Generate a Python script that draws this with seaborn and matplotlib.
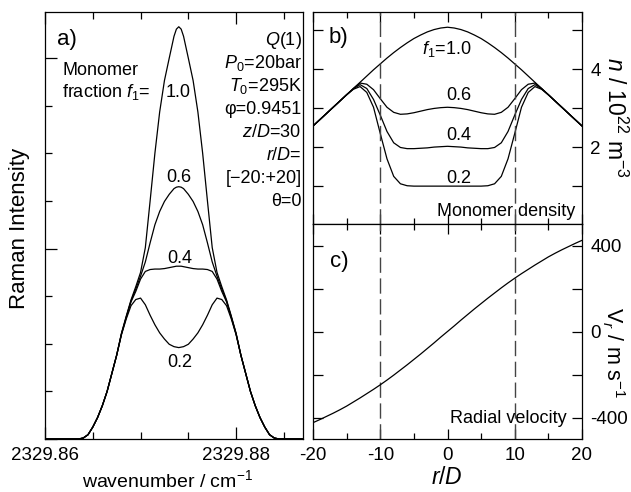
import matplotlib
matplotlib.use("Agg")
import matplotlib.pyplot as plt
from matplotlib.ticker import MultipleLocator, FixedLocator, FixedFormatter, NullFormatter, FuncFormatter
import pandas as pd
import seaborn as sns

# ---------------- data: panel a (Raman spectra) ----------------
wavenumber = [2329.8600, 2329.8635,
              2329.8640, 2329.8645, 2329.8650, 2329.8655, 2329.8660, 2329.8665, 2329.8670,
              2329.8675, 2329.8680, 2329.8685, 2329.8690, 2329.8695, 2329.8700, 2329.8705,
              2329.8710, 2329.8715, 2329.8720, 2329.8725, 2329.8730, 2329.8735, 2329.87375,
              2329.8740, 2329.87425,
              2329.8745, 2329.8750, 2329.8755, 2329.8760, 2329.8765, 2329.8770, 2329.8775,
              2329.8780, 2329.8785, 2329.8790, 2329.8795, 2329.8800, 2329.8805, 2329.8810,
              2329.8815, 2329.8820, 2329.8825, 2329.8830, 2329.8835, 2329.8840,
              2329.8845, 2329.8870]
spec_f10 = [0.0, 0.0,
            0.02, 0.09, 0.25, 0.45, 0.70, 1.00, 1.38, 1.76, 2.22, 2.58, 2.92, 3.20, 3.50, 4.02,
            5.00, 6.00, 6.87, 7.53, 8.00, 8.46, 8.61, 8.66, 8.61, 8.46, 8.00, 7.53, 6.87, 6.00, 5.00, 4.02,
            3.50, 3.20, 2.92, 2.58, 2.22, 1.76, 1.38, 1.00, 0.70, 0.45, 0.25, 0.09, 0.02,
            0.0, 0.0]
spec_f06 = [0.0, 0.0,
            0.02, 0.09, 0.25, 0.45, 0.70, 1.00, 1.38, 1.76, 2.21, 2.56, 2.90, 3.15, 3.42, 3.72,
            4.12, 4.50, 4.78, 4.99, 5.14, 5.26, 5.29, 5.30, 5.29, 5.26, 5.14, 4.99, 4.78, 4.50, 4.12, 3.72,
            3.42, 3.15, 2.90, 2.56, 2.21, 1.76, 1.38, 1.00, 0.70, 0.45, 0.25, 0.09, 0.02,
            0.0, 0.0]
spec_f04 = [0.0, 0.0,
            0.02, 0.09, 0.25, 0.45, 0.70, 1.00, 1.38, 1.76, 2.20, 2.55, 2.88, 3.10, 3.36, 3.52,
            3.56, 3.57, 3.57, 3.58, 3.60, 3.62, 3.63, 3.63, 3.63, 3.62, 3.60, 3.58, 3.57, 3.57, 3.56, 3.52,
            3.36, 3.10, 2.88, 2.55, 2.20, 1.76, 1.38, 1.00, 0.70, 0.45, 0.25, 0.09, 0.02,
            0.0, 0.0]
spec_f02 = [0.0, 0.0,
            0.02, 0.09, 0.25, 0.45, 0.70, 1.00, 1.38, 1.76, 2.19, 2.52, 2.80, 2.93, 2.96, 2.82,
            2.60, 2.40, 2.23, 2.10, 1.99, 1.94, 1.93, 1.92, 1.93, 1.94, 1.99, 2.10, 2.23, 2.40, 2.60, 2.82,
            2.96, 2.93, 2.80, 2.52, 2.19, 1.76, 1.38, 1.00, 0.70, 0.45, 0.25, 0.09, 0.02,
            0.0, 0.0]

# ---------------- data: panels b, c (radial profiles) ----------------
r_over_D = [-20, -19, -18, -17, -16, -15, -14, -13, -12, -11, -10, -9, -8, -7, -6, -5, -4, -3, -2, -1, 0,
            1, 2, 3, 4, 5, 6, 7, 8, 9, 10, 11, 12, 13, 14, 15, 16, 17, 18, 19, 20]
dens_f10 = [2.54, 2.70, 2.86, 3.02, 3.18, 3.34, 3.50, 3.66, 3.82, 3.98, 4.13, 4.28, 4.42, 4.55, 4.67,
            4.78, 4.87, 4.95, 5.01, 5.05, 5.07, 5.05, 5.01, 4.95, 4.87, 4.78, 4.67, 4.55, 4.42, 4.28,
            4.13, 3.98, 3.82, 3.66, 3.50, 3.34, 3.18, 3.02, 2.86, 2.70, 2.54]
dens_f06 = [2.54, 2.70, 2.86, 3.02, 3.18, 3.34, 3.50, 3.64, 3.61, 3.47, 3.24, 3.02, 2.89, 2.84, 2.85,
            2.88, 2.92, 2.96, 2.99, 3.01, 3.02, 3.01, 2.99, 2.96, 2.92, 2.88, 2.85, 2.84, 2.89, 3.02,
            3.24, 3.47, 3.61, 3.64, 3.50, 3.34, 3.18, 3.02, 2.86, 2.70, 2.54]
dens_f04 = [2.54, 2.70, 2.86, 3.02, 3.18, 3.34, 3.49, 3.60, 3.50, 3.22, 2.82, 2.40, 2.11, 1.99, 1.96,
            1.96, 1.97, 1.98, 2.00, 2.01, 2.02, 2.01, 2.00, 1.98, 1.97, 1.96, 1.96, 1.99, 2.11, 2.40,
            2.82, 3.22, 3.50, 3.60, 3.49, 3.34, 3.18, 3.02, 2.86, 2.70, 2.54]
dens_f02 = [2.54, 2.70, 2.86, 3.02, 3.18, 3.34, 3.48, 3.55, 3.40, 3.02, 2.35, 1.70, 1.25, 1.06, 1.01,
            1.00, 1.00, 1.00, 1.00, 1.00, 1.00, 1.00, 1.00, 1.00, 1.00, 1.00, 1.01, 1.06, 1.25, 1.70,
            2.35, 3.02, 3.40, 3.55, 3.48, 3.34, 3.18, 3.02, 2.86, 2.70, 2.54]
vel_r = [-424, -410, -395, -380, -364, -347, -328, -309, -289, -269, -248, -226, -203, -179, -155,
         -130, -105, -79, -53, -26, 0, 26, 53, 79, 105, 130, 155, 179, 203, 226, 248, 269, 289, 309,
         328, 347, 364, 380, 395, 410, 424]
boundary_r = [-10, 10]

spec_labels = ["1.0", "0.6", "0.4", "0.2"]
param_lines = ["$Q$(1)", "$P_0$=20bar", "$T_0$=295K", "\u03c6=0.9451", "$z/D$=30",
               "$r/D$=", "[\u221220:+20]", "\u03b8=0"]

# ---------------- style ----------------
sns.set_style("ticks")
plt.rcParams["font.family"] = ["Liberation Sans", "DejaVu Sans"]
plt.rcParams["mathtext.fontset"] = "custom"
plt.rcParams["mathtext.rm"] = "Liberation Sans"
plt.rcParams["mathtext.it"] = "Liberation Sans:italic"
plt.rcParams["mathtext.bf"] = "Liberation Sans:bold"
plt.rcParams["axes.unicode_minus"] = False
for key in ["text.color", "axes.labelcolor", "xtick.color", "ytick.color", "axes.edgecolor"]:
    plt.rcParams[key] = "black"

FS_TICK = 13.5
FS_TXT = 13
FS_PAN = 16
LW = 0.9

fig = plt.figure(figsize=(6.31, 4.92), dpi=100)
W, H = 631, 492


def rect(x0, y0, x1, y1):
    return [x0 / W, 1 - y1 / H, (x1 - x0) / W, (y1 - y0) / H]


axa = fig.add_axes(rect(45, 12, 303, 439))
axb = fig.add_axes(rect(313, 12, 582, 224))
axc = fig.add_axes(rect(313, 224, 582, 439))

for ax in (axa, axb, axc):
    for s in ax.spines.values():
        s.set_linewidth(0.9)
        s.set_color("black")

# ---------------- panel a ----------------
spec_df = pd.DataFrame({"w": wavenumber, "1.0": spec_f10, "0.6": spec_f06,
                        "0.4": spec_f04, "0.2": spec_f02})
for lab in spec_labels:
    sns.lineplot(data=spec_df, x="w", y=lab, ax=axa, color="black", lw=LW,
                 estimator=None, sort=False)
axa.set_xlim(2329.86, 2329.887)
axa.set_ylim(0, 8.97)
axa.xaxis.set_major_locator(FixedLocator([2329.86, 2329.88]))
axa.xaxis.set_major_formatter(FixedFormatter(["2329.86", "2329.88"]))
axa.xaxis.set_minor_locator(MultipleLocator(0.005))
axa.yaxis.set_major_locator(MultipleLocator(4))
axa.yaxis.set_minor_locator(MultipleLocator(1))
axa.yaxis.set_major_formatter(NullFormatter())
axa.tick_params(which="both", direction="in", top=True, right=False, width=0.9,
                labelsize=FS_TICK, pad=6, colors="black")
axa.tick_params(which="major", length=8.5)
axa.tick_params(which="minor", length=5)
axa.set_xlabel("wavenumber / cm$^{-1}$", fontsize=14)
axa.set_ylabel("Raman Intensity", fontsize=16)
axa.xaxis.set_label_coords(0.473, -0.096)
axa.xaxis.label.set_va("center")
axa.yaxis.set_label_coords(-0.097, 0.494)
axa.yaxis.label.set_va("center")

axa.text(0.045, 0.923, "a)", transform=axa.transAxes, fontsize=FS_PAN, va="baseline")
axa.text(0.066, 0.852, "Monomer", transform=axa.transAxes, fontsize=FS_TXT, va="baseline")
axa.text(0.066, 0.801, "fraction $f_1$=", transform=axa.transAxes, fontsize=FS_TXT, va="baseline")
axa.text(0.469, 0.801, spec_labels[0], transform=axa.transAxes, fontsize=FS_TXT, va="baseline")
axa.text(0.519, 0.602, spec_labels[1], transform=axa.transAxes, fontsize=FS_TXT, va="baseline", ha="center")
axa.text(0.523, 0.412, spec_labels[2], transform=axa.transAxes, fontsize=FS_TXT, va="baseline", ha="center")
axa.text(0.523, 0.169, spec_labels[3], transform=axa.transAxes, fontsize=FS_TXT, va="baseline", ha="center")
param_y = [0.9227, 0.8689, 0.8150, 0.7611, 0.7073, 0.6534, 0.5995, 0.5457]
for t, yy in zip(param_lines, param_y):
    axa.text(0.994, yy, t, transform=axa.transAxes, fontsize=FS_TXT, va="baseline", ha="right")

# ---------------- panel b ----------------
prof_df = pd.DataFrame({"r": r_over_D, "f10": dens_f10, "f06": dens_f06,
                        "f04": dens_f04, "f02": dens_f02, "v": vel_r})
for col in ["f10", "f06", "f04", "f02"]:
    sns.lineplot(data=prof_df, x="r", y=col, ax=axb, color="black", lw=LW,
                 estimator=None, sort=False)
for rb in boundary_r:
    axb.axvline(rb, color="#444444", lw=1.0, ls=(0, (11, 4)))
    axc.axvline(rb, color="#444444", lw=1.0, ls=(0, (11, 4)))
axb.set_xlim(-20, 20)
axb.set_ylim(0.03, 5.46)
axb.xaxis.set_major_locator(MultipleLocator(10))
axb.xaxis.set_minor_locator(MultipleLocator(5))
axb.xaxis.set_major_formatter(NullFormatter())
axb.yaxis.set_major_locator(FixedLocator([1, 2, 3, 4, 5]))
axb.yaxis.set_major_formatter(FixedFormatter(["", "2", "", "4", ""]))
axb.tick_params(which="both", direction="in", top=True, bottom=True, left=True, right=True,
                labelleft=False, labelright=True, labelbottom=False, width=0.9,
                labelsize=FS_TICK, pad=6, colors="black")
axb.tick_params(which="major", length=7)
axb.tick_params(which="minor", length=4.5)
axb.set_xlabel("")
axb.set_ylabel("$n$ / 10$^{22}$ m$^{-3}$", fontsize=16.5, rotation=270)
axb.yaxis.set_label_position("right")
axb.yaxis.set_label_coords(1.123, 0.5)
axb.yaxis.label.set_va("center")
axb.yaxis.label.set_ha("center")

axb.text(0.056, 0.854, "b)", transform=axb.transAxes, fontsize=FS_PAN, va="baseline")
axb.text(0.497, 0.802, "$f_1$=1.0", transform=axb.transAxes, fontsize=FS_TXT, va="baseline", ha="center")
axb.text(0.543, 0.585, "0.6", transform=axb.transAxes, fontsize=FS_TXT, va="baseline", ha="center")
axb.text(0.543, 0.396, "0.4", transform=axb.transAxes, fontsize=FS_TXT, va="baseline", ha="center")
axb.text(0.543, 0.193, "0.2", transform=axb.transAxes, fontsize=FS_TXT, va="baseline", ha="center")
axb.text(0.974, 0.038, "Monomer density", transform=axb.transAxes, fontsize=FS_TXT,
         va="baseline", ha="right")

# ---------------- panel c ----------------
sns.lineplot(data=prof_df, x="r", y="v", ax=axc, color="black", lw=LW,
             estimator=None, sort=False)
axc.set_xlim(-20, 20)
axc.set_ylim(-500, 500)
axc.xaxis.set_major_locator(MultipleLocator(10))
axc.xaxis.set_minor_locator(MultipleLocator(5))
axc.yaxis.set_major_locator(MultipleLocator(200))
axc.yaxis.set_major_formatter(FuncFormatter(lambda v, p: "%d" % v if abs(v) in (0, 400) else ""))
axc.tick_params(which="both", direction="in", top=True, bottom=True, left=True, right=True,
                labelleft=False, labelright=True, width=0.9, labelsize=FS_TICK, pad=6,
                colors="black")
axc.tick_params(which="major", length=7)
axc.tick_params(which="minor", length=4.5)
axc.set_xlabel("$r/D$", fontsize=16.5)
axc.xaxis.set_label_coords(0.498, -0.177)
axc.xaxis.label.set_va("center")
axc.set_ylabel("V$_r$ / m s$^{-1}$", fontsize=15.5, rotation=270)
axc.yaxis.set_label_position("right")
axc.yaxis.set_label_coords(1.118, 0.40)
axc.yaxis.label.set_va("center")
axc.yaxis.label.set_ha("center")

axc.text(0.063, 0.80, "c)", transform=axc.transAxes, fontsize=FS_PAN, va="baseline")
axc.text(0.943, 0.074, "Radial velocity", transform=axc.transAxes, fontsize=FS_TXT,
         va="baseline", ha="right")

fig.savefig("out.png", dpi=100)
